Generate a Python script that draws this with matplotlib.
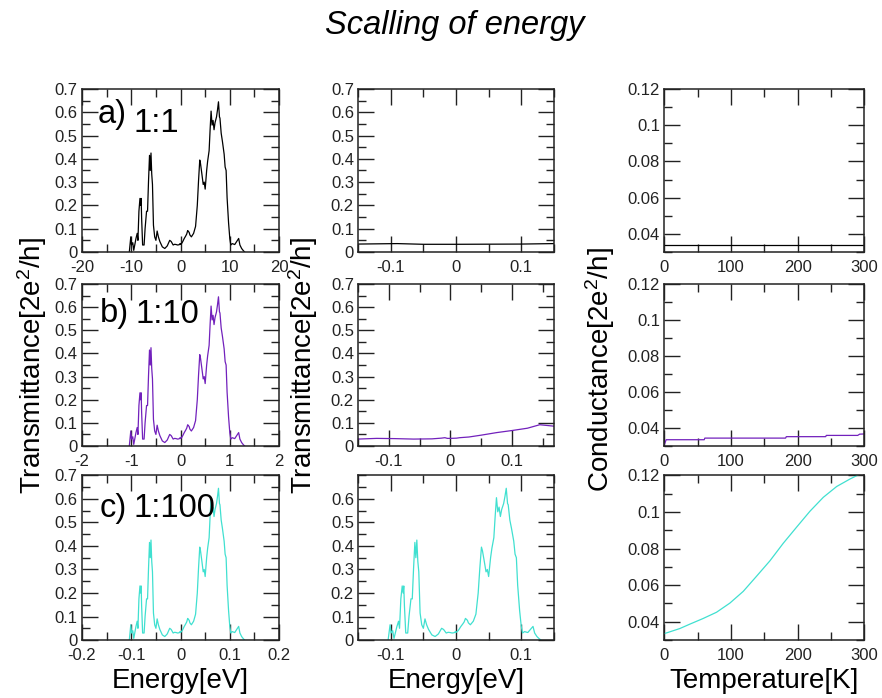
import matplotlib
matplotlib.use('Agg')
import matplotlib.pyplot as plt
from matplotlib.ticker import MultipleLocator, FormatStrFormatter

plt.rcParams['font.family'] = ['Liberation Sans', 'DejaVu Sans']
plt.rcParams['mathtext.default'] = 'regular'

# transmission spectrum for the unscaled (1:1) case
energy_ev = [-10.4, -10.1, -9.95, -9.7, -9.5, -9.05, -8.8, -8.65, -8.45, -8.24,
             -8.1, -8.0, -7.9, -7.7, -7.4, -7.2, -6.9, -6.7, -6.5, -6.3,
             -6.15, -6.0, -5.85, -5.7, -5.5, -5.25, -5.0, -4.75, -4.5, -4.2,
             -3.7, -3.2, -2.7, -2.2, -1.9, -1.5, -1.2, -0.9, -0.6, -0.3,
             -0.15, -0.09, -0.05, 0.0, 0.1, 0.15, 0.3, 0.5, 0.75, 1.0,
             1.25, 1.45, 1.6, 1.75, 1.9, 2.2, 2.65, 3.05, 3.4, 3.65,
             3.9, 4.05, 4.3, 4.6, 4.8, 5.0, 5.3, 5.5, 5.8, 6.0,
             6.2, 6.4, 6.6, 6.8, 7.0, 7.3, 7.5, 7.7, 7.9, 8.0,
             8.25, 8.5, 8.85, 9.05, 9.25, 9.45, 9.75, 10.0, 10.2, 10.5,
             11.0, 11.55, 11.8, 12.05, 12.4, 12.7, 13.0]
transmission = [0.0, 0.065, 0.03, 0.04, 0.007, 0.058, 0.08, 0.05, 0.175, 0.23,
                0.2, 0.23, 0.145, 0.03, 0.03, 0.10, 0.175, 0.175, 0.305, 0.415,
                0.35, 0.425, 0.335, 0.29, 0.115, 0.065, 0.05, 0.09, 0.065, 0.045,
                0.022, 0.015, 0.026, 0.05, 0.045, 0.030, 0.033, 0.032, 0.030, 0.031,
                0.034, 0.036, 0.033, 0.033, 0.034, 0.036, 0.039, 0.047, 0.058, 0.067,
                0.077, 0.092, 0.088, 0.084, 0.073, 0.065, 0.08, 0.11, 0.2, 0.305,
                0.395, 0.38, 0.34, 0.29, 0.3, 0.27, 0.35, 0.39, 0.435, 0.525,
                0.605, 0.545, 0.565, 0.525, 0.555, 0.58, 0.61, 0.645, 0.58, 0.575,
                0.51, 0.475, 0.42, 0.365, 0.35, 0.233, 0.125, 0.058, 0.03, 0.036,
                0.032, 0.05, 0.058, 0.03, 0.015, 0.007, 0.0]

# energy scaling factors and panel tags
scales = [1, 10, 100]
tags = ['a)', 'b)', 'c)']
ratio_labels = ['1:1', '1:10', '1:100']
colors = ['black', '#7221BC', '#40E0D0']

# conductance vs temperature
temp_flat = [0, 100, 200, 300]
cond_1 = [0.0338, 0.0338, 0.0338, 0.0338]
temp_10 = [0, 3, 60, 61, 182, 183, 242, 243, 290, 293, 300]
cond_10 = [0.0305, 0.0335, 0.0335, 0.0344, 0.0344, 0.0352, 0.0352, 0.0359,
           0.0359, 0.0366, 0.0367]
temp_100 = [0, 8.5, 23.5, 38.5, 58.5, 78.5, 98.5, 118.5, 138.5, 158.5,
            178.5, 198.5, 218.5, 238.5, 258.5, 278.5, 289.5, 300]
cond_100 = [0.0335, 0.0345, 0.0363, 0.0387, 0.0418, 0.0452, 0.0502, 0.0566,
            0.0649, 0.0733, 0.0829, 0.0917, 0.1004, 0.1080, 0.1139, 0.1180,
            0.1200, 0.1215]
temps = [temp_flat, temp_10, temp_100]
conds = [cond_1, cond_10, cond_100]

fig = plt.figure(figsize=(8.82, 6.98), dpi=100)

lefts = [0.093, 0.406, 0.753]
widths = [0.2234, 0.222, 0.227]
bottoms = [0.639, 0.361, 0.083]
heights = [0.2335, 0.232, 0.236]


def style_axis(ax, xmaj, xmin, ymaj, ymin):
    ax.xaxis.set_major_locator(MultipleLocator(xmaj))
    ax.xaxis.set_minor_locator(MultipleLocator(xmin))
    ax.yaxis.set_major_locator(MultipleLocator(ymaj))
    ax.yaxis.set_minor_locator(MultipleLocator(ymin))
    ax.xaxis.set_major_formatter(FormatStrFormatter('%g'))
    ax.yaxis.set_major_formatter(FormatStrFormatter('%g'))
    ax.tick_params(which='both', direction='in', top=True, right=True,
                   width=1.0, colors='#222222', labelcolor='#222222')
    ax.tick_params(which='major', length=11.5)
    ax.tick_params(which='minor', length=6)
    ax.tick_params(axis='x', which='major', labelsize=12, pad=6)
    ax.tick_params(axis='y', which='major', labelsize=12, pad=3)
    for sp in ax.spines.values():
        sp.set_linewidth(1.1)
        sp.set_color('#222222')


col2_xlims = [(-0.15, 0.15), (-0.15, 0.168), (-0.15, 0.15)]
tag_pos = [(0.081, 0.79, 0.26, 0.736), (0.09, 0.765, 0.27, 0.76),
           (0.09, 0.745, 0.26, 0.745)]

for i in range(3):
    e_scaled = [e / scales[i] for e in energy_ev]

    # left column: full spectrum
    ax = fig.add_axes([lefts[0], bottoms[i], widths[0], heights[i]])
    ax.plot(e_scaled, transmission, color=colors[i], lw=0.9)
    span = 20.0 / scales[i]
    ax.set_xlim(-span, span)
    ax.set_ylim(0, 0.7)
    style_axis(ax, span / 2, span / 4, 0.1, 0.05)
    tx, ty, rx, ry = tag_pos[i]
    ax.text(tx, ty, tags[i], transform=ax.transAxes, fontsize=23.5)
    ax.text(rx, ry, ratio_labels[i], transform=ax.transAxes, fontsize=23.5)

    # middle column: zoom around the Fermi level
    ax = fig.add_axes([lefts[1], bottoms[i], widths[1], heights[i]])
    ax.plot(e_scaled, transmission, color=colors[i], lw=0.9)
    ax.set_xlim(*col2_xlims[i])
    ax.set_ylim(0, 0.7)
    style_axis(ax, 0.1, 0.05, 0.1, 0.05)
    if i == 2:
        ax.set_yticks([0, 0.1, 0.2, 0.3, 0.4, 0.5, 0.6])

    # right column: conductance vs temperature
    ax = fig.add_axes([lefts[2], bottoms[i], widths[2], heights[i]])
    ax.plot(temps[i], conds[i], color=colors[i], lw=0.9)
    ax.set_xlim(0, 300)
    ax.set_ylim(0.03, 0.12)
    style_axis(ax, 100, 50, 0.02, 0.01)
    ax.set_yticks([0.04, 0.06, 0.08, 0.1, 0.12])

fig.text(0.516, 0.964, 'Scalling of energy', ha='center', va='center',
         fontsize=23.5, style='italic')
fig.text(0.036, 0.477, 'Transmittance[2e$^2$/h]', rotation=90,
         ha='center', va='center', fontsize=20)
fig.text(0.344, 0.477, 'Transmittance[2e$^2$/h]', rotation=90,
         ha='center', va='center', fontsize=20)
fig.text(0.68, 0.47, 'Conductance[2e$^2$/h]', rotation=90,
         ha='center', va='center', fontsize=20)
fig.text(0.204, 0.024, 'Energy[eV]', ha='center', va='center', fontsize=20)
fig.text(0.517, 0.024, 'Energy[eV]', ha='center', va='center', fontsize=20)
fig.text(0.866, 0.024, 'Temperature[K]', ha='center', va='center', fontsize=20)

plt.savefig('out.png', dpi=100)
